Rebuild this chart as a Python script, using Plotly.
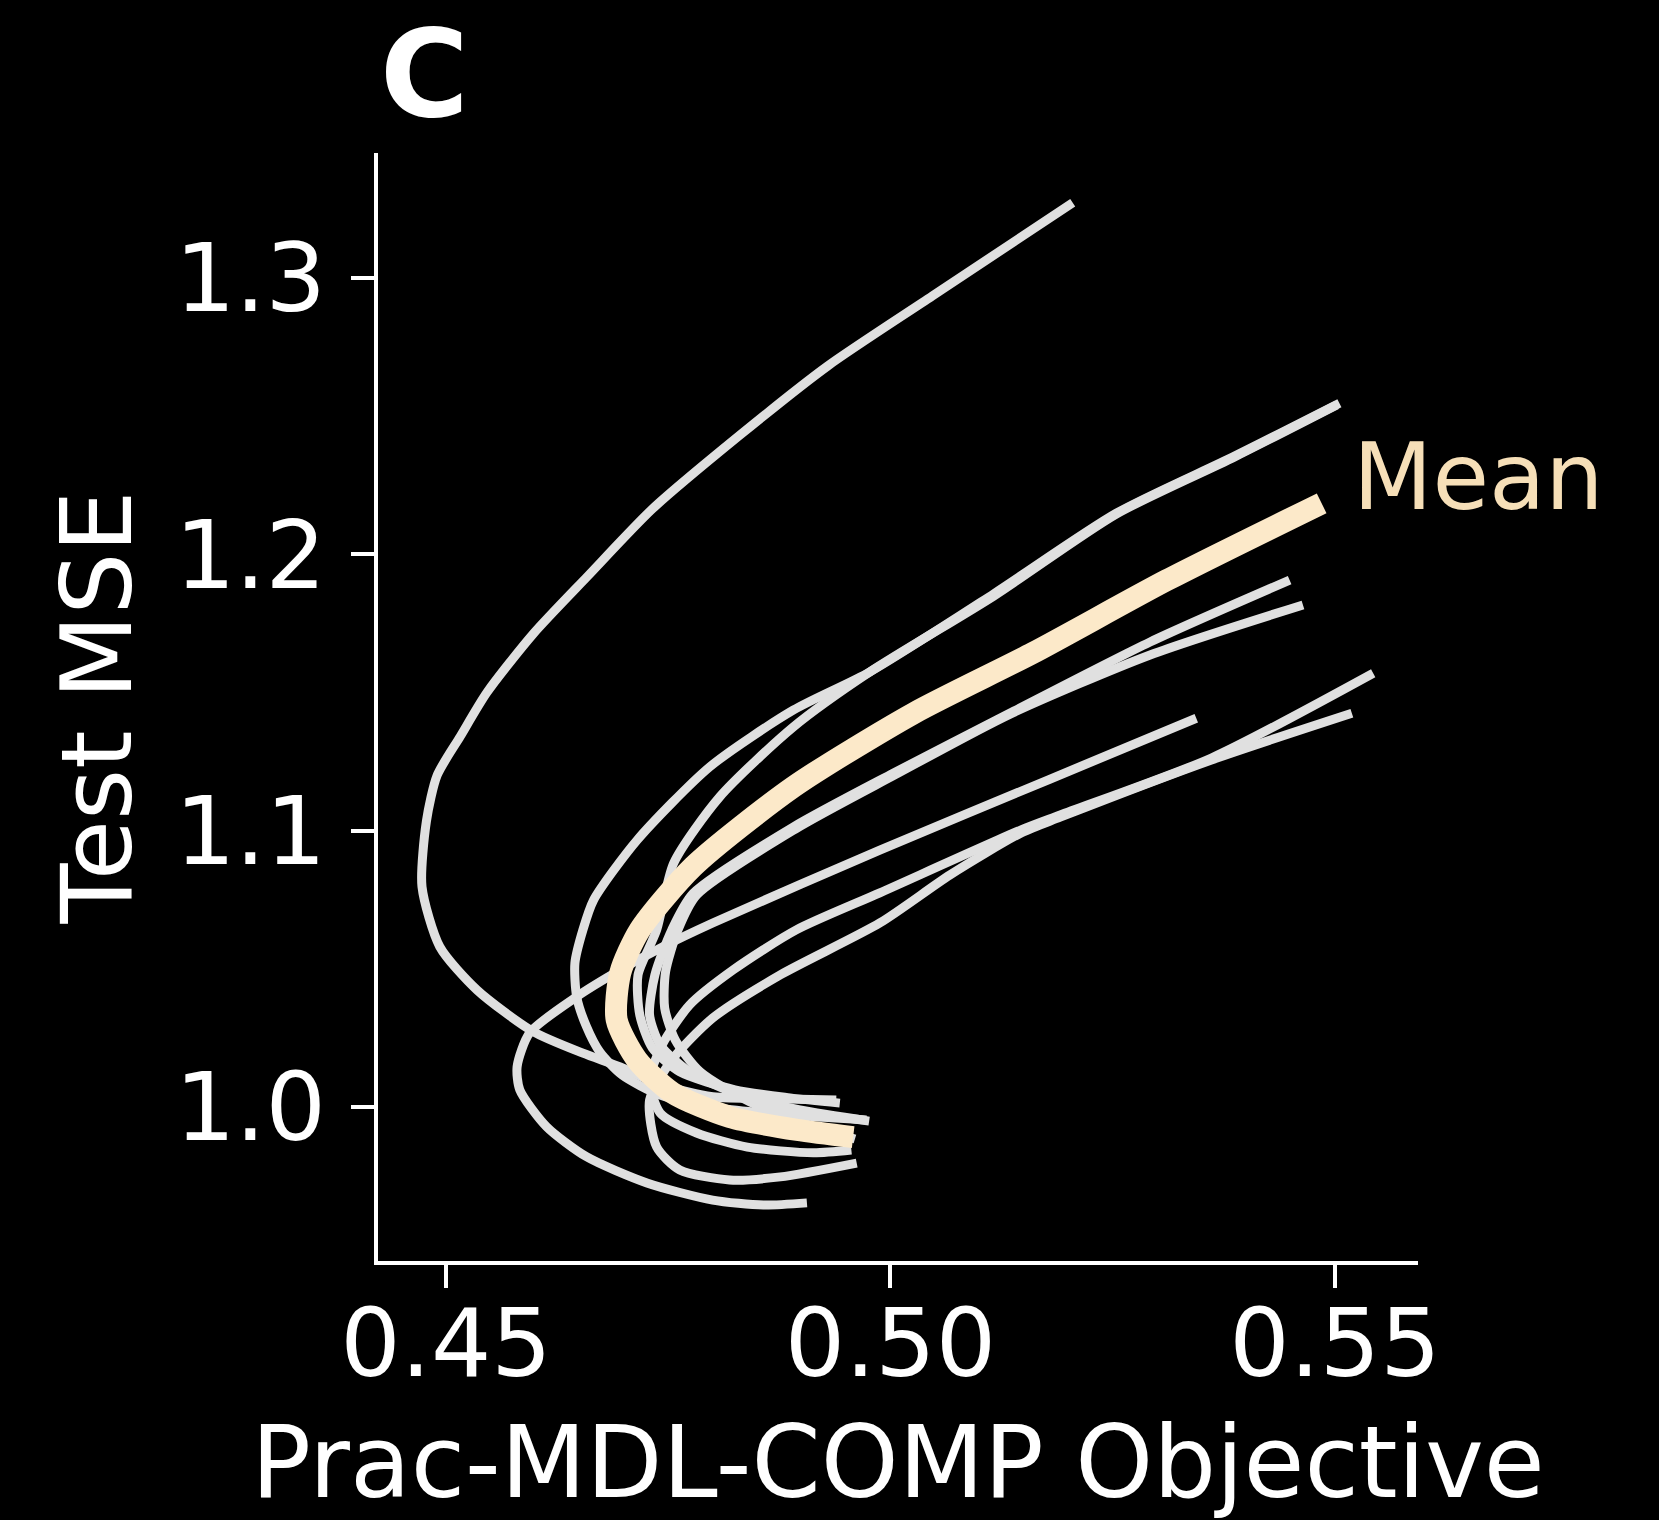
import plotly.graph_objects as go

# Regularisation paths: Prac-MDL-COMP objective (x) vs test MSE (y), one per run
run_a_x = [0.4939, 0.4870, 0.4800, 0.4737, 0.4696, 0.4654, 0.4598, 0.4535, 0.4493, 0.4473, 0.4478,
           0.4490, 0.4516, 0.4546, 0.4598, 0.4659, 0.4732, 0.4830, 0.4929, 0.5047, 0.5205]
run_a_y = [1.0025, 1.0030, 1.0037, 1.0086, 1.0145, 1.0195, 1.0273, 1.0423, 1.0580, 1.0797, 1.1035,
           1.1200, 1.1341, 1.1500, 1.1712, 1.1920, 1.2164, 1.2430, 1.2681, 1.2935, 1.3273]

run_b_x = [0.4973, 0.4887, 0.4808, 0.4741, 0.4698, 0.4673, 0.4658, 0.4647, 0.4645, 0.4654, 0.4666,
           0.4715, 0.4797, 0.4891, 0.4977, 0.5116, 0.5254, 0.5386, 0.5505]
run_b_y = [0.9953, 0.9971, 0.9996, 1.0043, 1.0116, 1.0199, 1.0291, 1.0399, 1.0521, 1.0641, 1.0749,
           1.0966, 1.1232, 1.1437, 1.1575, 1.1857, 1.2149, 1.2354, 1.2547]

run_c_x = [0.4943, 0.4887, 0.4825, 0.4763, 0.4732, 0.4718, 0.4716, 0.4737, 0.4756, 0.4808, 0.4891,
           0.4977, 0.5116, 0.5254, 0.5386, 0.5502]
run_c_y = [1.0014, 1.0033, 1.0062, 1.0127, 1.0214, 1.0333, 1.0478, 1.0641, 1.0882, 1.1123, 1.1376,
           1.1575, 1.1849, 1.2146, 1.2351, 1.2541]

run_d_x = [0.4906, 0.4857, 0.4800, 0.4726, 0.4658, 0.4613, 0.4583, 0.4580, 0.4594, 0.4647, 0.4696,
           0.4744, 0.4800, 0.4988, 0.5179, 0.5344]
run_d_y = [0.9653, 0.9645, 0.9663, 0.9725, 0.9820, 0.9929, 1.0062, 1.0146, 1.0268, 1.0399, 1.0496,
           1.0580, 1.0666, 1.0930, 1.1186, 1.1407]

run_e_x = [0.4976, 0.4898, 0.4831, 0.4774, 0.4741, 0.4729, 0.4735, 0.4754, 0.4778, 0.4891, 0.5003,
           0.5134, 0.5292, 0.5449]
run_e_y = [0.9949, 0.9989, 1.0043, 1.0127, 1.0224, 1.0333, 1.0478, 1.0641, 1.0773, 1.1014, 1.1208,
           1.1425, 1.1683, 1.1907]

run_f_x = [0.4960, 0.4909, 0.4842, 0.4786, 0.4758, 0.4746, 0.4747, 0.4761, 0.4782, 0.4893, 0.5005,
           0.5134, 0.5292, 0.5464]
run_f_y = [0.9884, 0.9935, 1.0018, 1.0127, 1.0242, 1.0358, 1.0489, 1.0641, 1.0767, 1.1006, 1.1202,
           1.1421, 1.1636, 1.1817]

run_g_x = [0.4956, 0.4913, 0.4839, 0.4782, 0.4741, 0.4729, 0.4743, 0.4774, 0.4823, 0.4894, 0.4988,
           0.5147, 0.5191, 0.5361, 0.5543]
run_g_y = [0.9844, 0.9834, 0.9855, 0.9906, 0.9978, 1.0098, 1.0224, 1.0369, 1.0496, 1.0641, 1.0775,
           1.1003, 1.1057, 1.1263, 1.1570]

run_h_x = [0.4962, 0.4876, 0.4819, 0.4763, 0.4737, 0.4729, 0.4754, 0.4800, 0.4876, 0.4988, 0.5067,
           0.5147, 0.5191, 0.5361, 0.5519]
run_h_y = [0.9797, 0.9747, 0.9736, 0.9772, 0.9855, 1.0025, 1.0170, 1.0322, 1.0478, 1.0666, 1.0840,
           1.0992, 1.1049, 1.1256, 1.1425]

# Average path over all runs
mean_x = [0.4958, 0.4895, 0.4819, 0.4755, 0.4715, 0.4692, 0.4696, 0.4718, 0.4778, 0.4891, 0.5026,
          0.5160, 0.5311, 0.5485]
mean_y = [0.9891, 0.9917, 0.9964, 1.0051, 1.0170, 1.0315, 1.0485, 1.0641, 1.0870, 1.1159, 1.1425,
          1.1643, 1.1907, 1.2185]

x_ticks = [0.45, 0.50, 0.55]
x_tick_labels = ["0.45", "0.50", "0.55"]
y_ticks = [1.0, 1.1, 1.2, 1.3]
y_tick_labels = ["1.0", "1.1", "1.2", "1.3"]

runs = [
    (run_a_x, run_a_y), (run_b_x, run_b_y), (run_c_x, run_c_y), (run_d_x, run_d_y),
    (run_e_x, run_e_y), (run_f_x, run_f_y), (run_g_x, run_g_y), (run_h_x, run_h_y),
]

FONT = "DejaVu Sans"
RUN_COLOR = "#E0E0E0"
MEAN_COLOR = "#FCE9C9"
MEAN_TEXT = "#F6DFB8"

fig = go.Figure()
for xs, ys in runs:
    fig.add_trace(go.Scatter(
        x=xs, y=ys, mode="lines",
        line=dict(color=RUN_COLOR, width=9, shape="spline", smoothing=0.7),
        hoverinfo="skip", showlegend=False,
    ))

fig.add_trace(go.Scatter(
    x=mean_x, y=mean_y, mode="lines",
    line=dict(color=MEAN_COLOR, width=22, shape="spline", smoothing=0.7),
    hoverinfo="skip", showlegend=False,
))

fig.add_annotation(
    x=mean_x[-1], y=mean_y[-1], xref="x", yref="y",
    text="Mean", showarrow=False, xanchor="left", yanchor="middle",
    xshift=29, yshift=26,
    font=dict(family=FONT, size=92, color=MEAN_TEXT),
)

# Panel letter
fig.add_annotation(
    x=0.0, y=1.0, xref="paper", yref="paper",
    text="<b>C</b>", showarrow=False, xanchor="left", yanchor="bottom",
    yshift=6, xshift=0,
    font=dict(family=FONT, size=121, color="white"),
)

axis_common = dict(
    showgrid=False, zeroline=False, showline=True, linecolor="white", linewidth=4,
    ticks="outside", ticklen=23, tickwidth=4, tickcolor="white",
    tickfont=dict(family=FONT, size=95, color="white"),
)

fig.update_xaxes(
    range=[0.44235, 0.55934], tickvals=x_ticks, ticktext=x_tick_labels,
    ticklabelstandoff=-26,
    title=dict(text="Prac-MDL-COMP Objective", font=dict(family=FONT, size=99, color="white"),
               standoff=34),
    **axis_common,
)
fig.update_yaxes(
    range=[0.94426, 1.34528], tickvals=y_ticks, ticktext=y_tick_labels,
    ticklabelstandoff=6,
    title=dict(text="Test MSE", font=dict(family=FONT, size=98, color="white"),
               standoff=12),
    **axis_common,
)

fig.update_layout(
    width=1659, height=1520, autosize=False,
    margin=dict(l=378, r=241, t=153, b=259, pad=0),
    paper_bgcolor="black", plot_bgcolor="black",
    font=dict(family=FONT, color="white"),
)

fig.write_html("out.html")
